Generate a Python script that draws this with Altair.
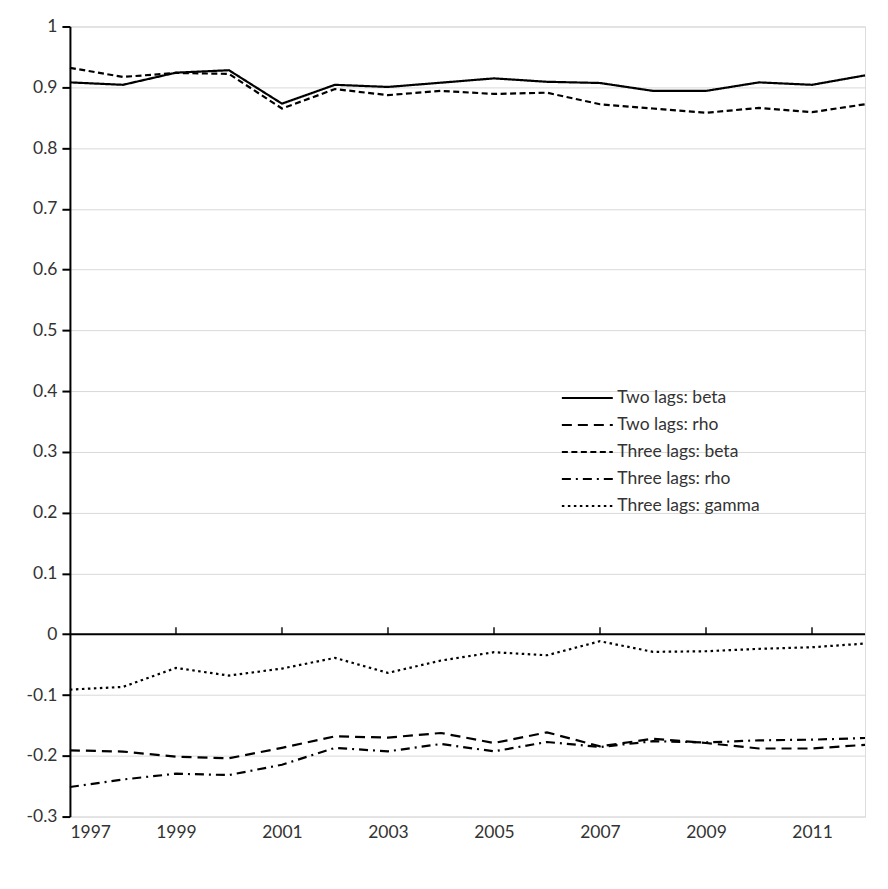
import altair as alt
import pandas as pd

years = list(range(1997, 2013))
series_names = ["Two lags: beta", "Two lags: rho", "Three lags: beta", "Three lags: rho", "Three lags: gamma"]

two_beta = [0.908, 0.904, 0.924, 0.928, 0.873, 0.904, 0.9005, 0.9075, 0.9146, 0.909, 0.907, 0.894, 0.894, 0.908, 0.904, 0.9195]
two_rho = [-0.191, -0.193, -0.2015, -0.204, -0.187, -0.168, -0.170, -0.1625, -0.179, -0.1614, -0.1845, -0.172, -0.179, -0.188, -0.188, -0.182]
three_beta = [0.932, 0.917, 0.9235, 0.922, 0.865, 0.897, 0.887, 0.894, 0.889, 0.891, 0.872, 0.865, 0.858, 0.866, 0.859, 0.872]
three_rho = [-0.2514, -0.239, -0.2295, -0.2317, -0.2147, -0.187, -0.1927, -0.1806, -0.1927, -0.1773, -0.1855, -0.176, -0.178, -0.1746, -0.1735, -0.1707]
three_gamma = [-0.0911, -0.0867, -0.0554, -0.068, -0.0565, -0.0389, -0.0636, -0.0433, -0.0296, -0.0346, -0.0115, -0.029, -0.028, -0.024, -0.0214, -0.0153]

x_label_years = [1997, 1999, 2001, 2003, 2005, 2007, 2009, 2011]
x_tick_years = [1999, 2001, 2003, 2005, 2007, 2009, 2011]
y_ticks = [-0.3, -0.2, -0.1, 0.0, 0.1, 0.2, 0.3, 0.4, 0.5, 0.6, 0.7, 0.8, 0.9, 1.0]

dashes = [[1, 0], [10, 6], [6, 3.5], [9, 5, 2, 5], [2.5, 3.5]]

rows = []
for name, vals in zip(series_names, [two_beta, two_rho, three_beta, three_rho, three_gamma]):
    for yr, v in zip(years, vals):
        rows.append({"year": yr, "value": v, "series": name})
df = pd.DataFrame(rows)

FONT = "Lato"
TXT = "#333333"
FS = 17.5

xscale = alt.Scale(domain=[1997, 2012], nice=False, zero=False)
yscale = alt.Scale(domain=[-0.3, 1.0], nice=False, zero=False)

lines = alt.Chart(df).mark_line(color="black", strokeWidth=2.2).encode(
    x=alt.X("year:Q", scale=xscale,
            axis=alt.Axis(values=x_label_years, format="d", domain=False, ticks=False, grid=False,
                          labelPadding=7, title=None, labelFontSize=FS, labelFont=FONT, labelColor=TXT)),
    y=alt.Y("value:Q", scale=yscale,
            axis=alt.Axis(values=y_ticks, labelExpr="toString(round(datum.value*10)/10)",
                          grid=True, gridColor="#d9d9d9", gridWidth=1,
                          domainColor="black", domainWidth=2, tickColor="black", tickWidth=2,
                          tickSize=8, labelPadding=5, title=None, labelFontSize=FS,
                          labelFont=FONT, labelColor=TXT)),
    strokeDash=alt.StrokeDash("series:N",
                              scale=alt.Scale(domain=series_names, range=dashes),
                              legend=alt.Legend(orient="none", legendX=504, legendY=358, title=None,
                                                symbolType="M-2,0H2", symbolStrokeColor="black",
                                                symbolStrokeWidth=2, symbolSize=650,
                                                labelFontSize=FS, labelFont=FONT, labelColor=TXT,
                                                rowPadding=4, labelOffset=16)),
)

zero_df = pd.DataFrame({"y": [0.0]})
zero_rule = alt.Chart(zero_df).mark_rule(color="black", strokeWidth=2).encode(
    y=alt.Y("y:Q", scale=yscale)
)

tick_df = pd.DataFrame({"year": x_tick_years, "y": [0.0] * len(x_tick_years)})
xticks = alt.Chart(tick_df).mark_tick(orient="vertical", size=7, thickness=2, color="black", yOffset=-3.5).encode(
    x=alt.X("year:Q", scale=xscale),
    y=alt.Y("y:Q", scale=yscale),
)

chart = alt.layer(zero_rule, lines, xticks).properties(
    width=796, height=791,
    autosize="none",
    padding={"left": 62, "top": 18, "right": 15, "bottom": 50},
).configure_view(stroke=None).configure(background="white")

chart.save("out.html", embed_options={"renderer": "svg", "actions": False})
